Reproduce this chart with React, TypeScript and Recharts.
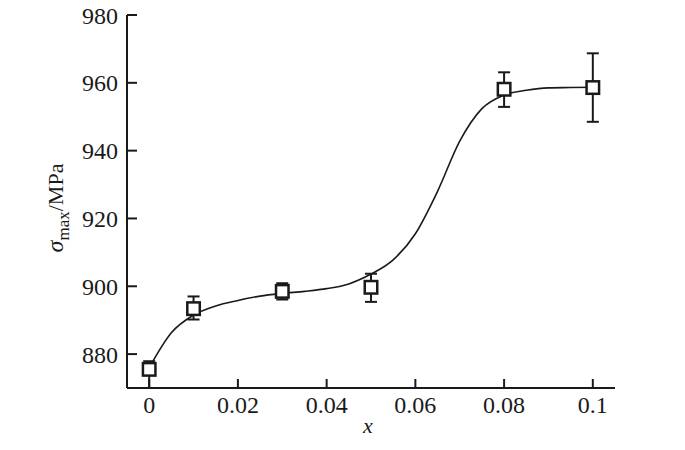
import React from 'react';
import {
    ComposedChart, Line, Scatter, ErrorBar, XAxis, YAxis
} from 'recharts';

// measured points (open squares with error bars)
const pointX = [0, 0.01, 0.03, 0.05, 0.08, 0.1];
const pointY = [875.5, 893.4, 898.5, 899.7, 958.1, 958.6];
const errLow = [5.5, 3.2, 2.4, 4.3, 5.2, 10.1];
const errHigh = [2.4, 3.6, 2.4, 4.0, 5.0, 10.1];

// fitted curve, every 0.005
const curveX = [0, 0.005, 0.01, 0.015, 0.02, 0.025, 0.03, 0.035, 0.04, 0.045, 0.05,
    0.055, 0.06, 0.065, 0.07, 0.075, 0.08, 0.085, 0.09, 0.095, 0.1];
const curveY = [876.0, 886.3, 891.5, 894.2, 895.8, 897.1, 897.9, 898.5, 899.3, 900.7, 903.6,
    907.8, 915.5, 928.0, 942.8, 952.4, 956.4, 957.8, 958.5, 958.6, 958.7];

const xTicks = [0, 0.02, 0.04, 0.06, 0.08, 0.1];
const xTickLabels = ['0', '0.02', '0.04', '0.06', '0.08', '0.1'];
const yTicks = [880, 900, 920, 940, 960, 980];

const points = pointX.map((x, i) => ({ x, y: pointY[i], err: [errLow[i], errHigh[i]] }));
const curve = curveX.map((x, i) => ({ x, y: curveY[i] }));

const INK = '#1a1a1a';
const FONT = '"Liberation Serif", "Times New Roman", serif';

const Square = (p: any) => (
    <rect x={p.cx - 6.25} y={p.cy - 6.25} width={12.5} height={12.5}
        fill="#fff" stroke={INK} strokeWidth={2.5} />
);

export default function App() {
    const tickStyle = { fill: INK, fontSize: 24, fontFamily: FONT };
    return (
        <div style={{ position: 'absolute', left: 0, top: 0, background: '#fff' }}>
            <ComposedChart width={685} height={450} data={curve}
                margin={{ top: 15, right: 70, left: 67, bottom: 32 }}>
                <XAxis dataKey="x" type="number" domain={[-0.005, 0.105]} allowDataOverflow
                    ticks={xTicks} tickFormatter={(v: number) => xTickLabels[xTicks.indexOf(v)] ?? String(v)}
                    height={30} tickSize={-9} tickMargin={17}
                    tick={tickStyle} axisLine={{ stroke: INK, strokeWidth: 2 }} tickLine={{ stroke: INK, strokeWidth: 2 }}
                    label={{
                        content: () => (
                            <text x={368} y={433} textAnchor="middle" fontFamily={FONT}
                                fontStyle="italic" fontSize={22} fill={INK}>x</text>
                        )
                    }} />
                <XAxis xAxisId="top" orientation="top" dataKey="x" type="number" domain={[-0.005, 0.105]}
                    allowDataOverflow height={0} tick={false} tickLine={false}
                    axisLine={{ stroke: INK, strokeWidth: 2 }} />
                <YAxis type="number" domain={[870, 980]} allowDataOverflow ticks={yTicks}
                    width={60} tickSize={-10} tickMargin={19}
                    tick={tickStyle} axisLine={{ stroke: INK, strokeWidth: 2 }} tickLine={{ stroke: INK, strokeWidth: 2 }}
                    label={{
                        content: () => (
                            <text x={63} y={208} transform="rotate(-90 63 208)" textAnchor="middle"
                                fontFamily={FONT} fill={INK}>
                                <tspan fontStyle="italic" fontSize={24}>σ</tspan>
                                <tspan fontSize={17} dy={6}>max</tspan>
                                <tspan fontSize={22} dy={-6}>/MPa</tspan>
                            </text>
                        )
                    }} />
                <YAxis yAxisId="right" orientation="right" type="number" domain={[870, 980]}
                    allowDataOverflow width={0} tick={false} tickLine={false}
                    axisLine={{ stroke: INK, strokeWidth: 2 }} />
                <Line data={curve} dataKey="y" type="monotone" stroke={INK} strokeWidth={1.6}
                    dot={false} activeDot={false} isAnimationActive={false} />
                <Scatter data={points} dataKey="y" shape={Square} isAnimationActive={false}>
                    <ErrorBar dataKey="err" direction="y" width={6} stroke={INK} strokeWidth={2}
                        isAnimationActive={false} />
                </Scatter>
            </ComposedChart>
        </div>
    );
}
